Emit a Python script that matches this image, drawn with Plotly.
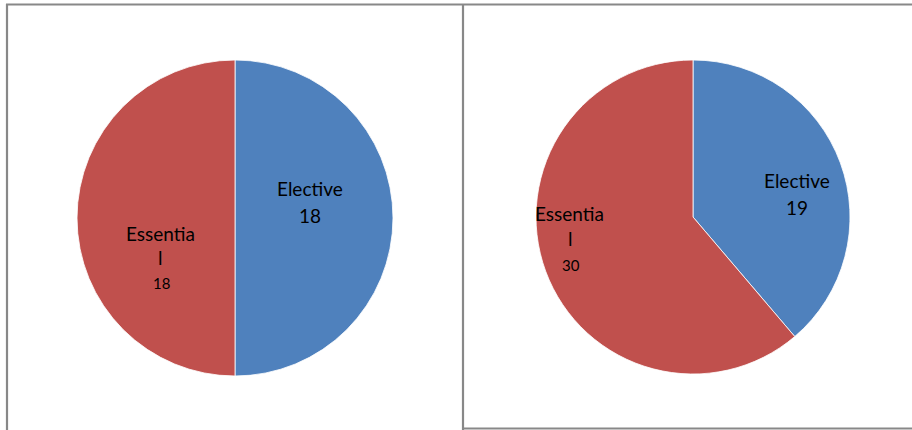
import plotly.graph_objects as go

categories = ["Elective", "Essential"]
left_values = [18, 18]
right_values = [19, 30]
colors = ["#4F81BD", "#C0504D"]

W, H = 912, 430

fig = go.Figure()
fig.add_trace(go.Pie(
    labels=categories, values=left_values, sort=False, direction="clockwise",
    rotation=0, marker=dict(colors=colors, line=dict(color="white", width=0.8)),
    textinfo="none", hoverinfo="label+value", showlegend=False,
    domain=dict(x=[77 / W, 393 / W], y=[1 - 376 / H, 1 - 60 / H]),
))
fig.add_trace(go.Pie(
    labels=categories, values=right_values, sort=False, direction="clockwise",
    rotation=0, marker=dict(colors=colors, line=dict(color="white", width=0.8)),
    textinfo="none", hoverinfo="label+value", showlegend=False,
    domain=dict(x=[536 / W, 850 / W], y=[1 - 374 / H, 1 - 60 / H]),
))

FONT = "Lato, Liberation Sans, sans-serif"

def ann(text, x, y, size):
    fig.add_annotation(text=text, x=x / W, y=1 - y / H, xref="paper", yref="paper",
                       showarrow=False, font=dict(family=FONT, size=size, color="#000000"),
                       xanchor="center", yanchor="middle")

# Left pie labels
ann(categories[0], 310, 188, 19)
ann(str(left_values[0]), 310, 215, 19)
ann("Essentia", 160, 233, 19)
ann("l", 160, 257, 19)
ann(str(left_values[1]), 161, 283, 15)
# Right pie labels
ann(categories[0], 797, 180, 19)
ann(str(right_values[0]), 797, 207, 19)
ann("Essentia", 569, 214, 19)
ann("l", 570, 238, 19)
ann(str(right_values[1]), 571, 265, 15)

line = dict(color="#888888", width=2.2)
shapes = [
    dict(type="line", xref="paper", yref="paper", x0=6 / W, x1=1, y0=1 - 4.5 / H, y1=1 - 4.5 / H, line=line),
    dict(type="line", xref="paper", yref="paper", x0=7 / W, x1=7 / W, y0=0, y1=1 - 4 / H, line=line),
    dict(type="line", xref="paper", yref="paper", x0=463 / W, x1=463 / W, y0=0, y1=1 - 4 / H, line=line),
    dict(type="line", xref="paper", yref="paper", x0=462 / W, x1=1, y0=1 - 428.5 / H, y1=1 - 428.5 / H, line=line),
]

fig.update_layout(
    width=W, height=H, margin=dict(l=0, r=0, t=0, b=0),
    paper_bgcolor="white", plot_bgcolor="white", shapes=shapes,
)
fig.write_html("out.html")
